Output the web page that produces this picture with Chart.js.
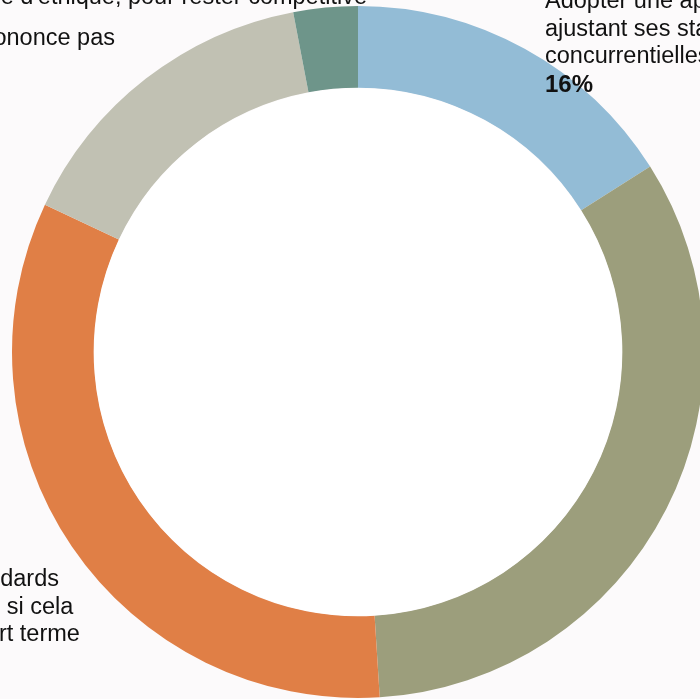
<!DOCTYPE html>
<html lang="fr">
<head>
<meta charset="utf-8">
<script src="https://cdn.jsdelivr.net/npm/chart.js@4/dist/chart.umd.min.js"></script>
<style>
  html, body { margin: 0; padding: 0; width: 700px; height: 699px; overflow: hidden; background: #fcfafb; }
  #wrap { position: absolute; left: 0; top: 0; }
  canvas { display: block; }
</style>
</head>
<body>
<div id="wrap"><canvas id="c" width="717" height="704"></canvas></div>
<script>
// ---- data ----
const categories = [
  "Adopter une approche flexible en ajustant ses standards aux pressions concurrentielles",
  "Rechercher un équilibre entre éthique et performance économique",
  "Garder ses standards éthiques, même si cela la dessert à court terme",
  "Ne se prononce pas",
  "Revoir à la baisse ses exigences en matière d'éthique, pour rester compétitive"
];
const values = [16, 33, 33, 15, 3];
const labelLines = [
  ["Adopter une approche flexible en", "ajustant ses standards aux pressions", "concurrentielles"],
  ["Rechercher un équilibre entre", "éthique et performance", "économique"],
  ["Garder ses standards", "éthiques, même si cela", "la dessert à court terme"],
  ["Ne se prononce pas"],
  ["Revoir à la baisse ses exigences", "en matière d'éthique, pour rester compétitive"]
];
const sliceColors = ["#93bcd6", "#9c9e7c", "#e07f46", "#c1c1b3", "#6e958a"];

// ---- label layout (text placement only) ----
const labelLayout = [
  { left: 545, y: 8 },
  { left: 725, y: 420 },
  { anchorLine: 0, right: 59, y: 586 },
  { anchorLine: 0, right: 115, y: 45 },
  { anchorLine: 1, right: 367, y: -23.5 }
];
const FONT_FAMILY = '"Liberation Sans", Arial, Helvetica, sans-serif';
const FONT_SIZE = 23.5;
const PCT_SIZE = 24;
const LINE_H = 27.5;

const holeFill = {
  id: 'holeFill',
  afterDatasetsDraw(chart) {
    const arc = chart.getDatasetMeta(0).data[0];
    if (!arc) return;
    const ctx = chart.ctx;
    ctx.save();
    ctx.fillStyle = '#ffffff';
    ctx.beginPath();
    ctx.arc(arc.x, arc.y, Math.max(0, arc.innerRadius - 0.5), 0, Math.PI * 2);
    ctx.fill();
    ctx.restore();
  }
};

const outsideLabels = {
  id: 'outsideLabels',
  afterDatasetsDraw(chart) {
    const ctx = chart.ctx;
    ctx.save();
    ctx.fillStyle = '#111111';
    ctx.textBaseline = 'alphabetic';
    ctx.textAlign = 'left';
    labelLines.forEach((lines, i) => {
      const lay = labelLayout[i];
      ctx.font = FONT_SIZE + 'px ' + FONT_FAMILY;
      let x0 = lay.left;
      if (x0 === undefined) {
        x0 = lay.right - ctx.measureText(lines[lay.anchorLine]).width;
      }
      lines.forEach((ln, k) => {
        ctx.fillText(ln, x0, lay.y + k * LINE_H);
      });
      ctx.font = 'bold ' + PCT_SIZE + 'px ' + FONT_FAMILY;
      ctx.fillText(values[i] + '%', x0, lay.y + lines.length * LINE_H + 1);
    });
    ctx.restore();
  }
};

new Chart(document.getElementById('c'), {
  type: 'doughnut',
  data: {
    labels: categories,
    datasets: [{
      data: values,
      backgroundColor: sliceColors,
      borderWidth: 0,
      hoverOffset: 0
    }]
  },
  options: {
    responsive: false,
    animation: false,
    cutout: '76.4%',
    layout: { padding: { left: 12, right: 13, top: 6, bottom: 6 } },
    plugins: {
      legend: { display: false },
      tooltip: { enabled: false }
    }
  },
  plugins: [holeFill, outsideLabels]
});
</script>
</body>
</html>
